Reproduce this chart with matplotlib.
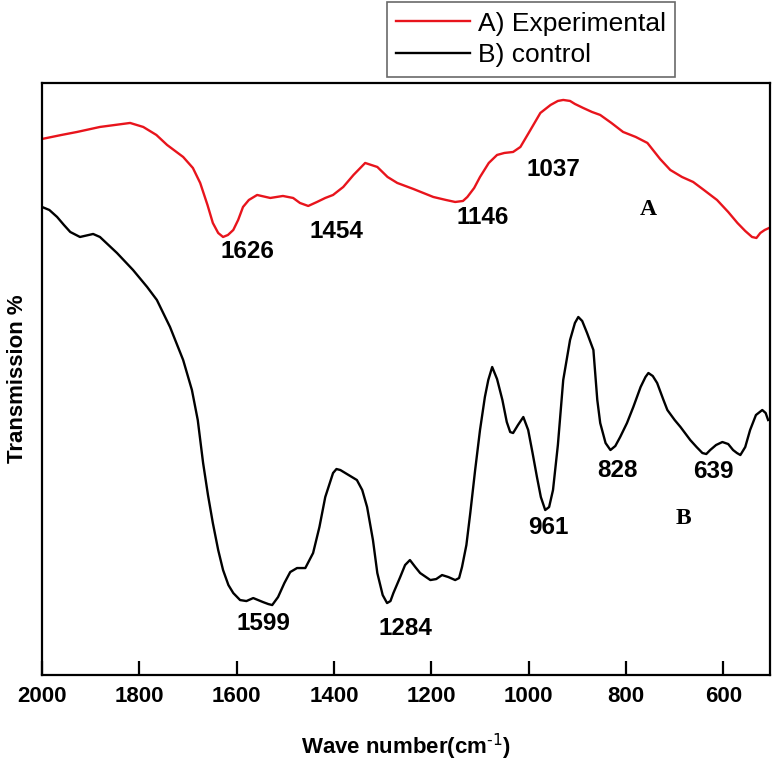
import matplotlib
matplotlib.use("Agg")
import matplotlib.pyplot as plt

# === DATOS ===
# Curva A) Experimental (numero de onda, transmision relativa)
wn_exp = [2000, 1960, 1928, 1881, 1850, 1819, 1792, 1765, 1743, 1710, 1690, 1675,
          1660, 1649, 1638, 1628, 1618, 1607, 1597, 1587, 1575, 1558, 1531, 1505,
          1484, 1470, 1453, 1435, 1418, 1402, 1381, 1360, 1336, 1311, 1290, 1270,
          1237, 1196, 1170, 1151, 1135, 1126, 1112, 1100, 1082, 1065, 1050, 1032,
          1017, 1000, 976, 955, 940, 929, 915, 905, 888, 870, 853, 830,
          806, 780, 756, 730, 709, 685, 662, 640, 613, 590, 571, 555,
          541, 532, 524, 515, 506]
tr_exp = [536, 540, 543, 548, 550, 552, 548, 540, 530, 518, 507, 492,
          470, 452, 442, 438, 440, 445, 455, 468, 475, 480, 477, 479,
          477, 472, 469, 473, 477, 480, 488, 500, 512, 508, 498, 492,
          486, 478, 475, 473, 474, 478, 487, 498, 512, 520, 522, 523,
          528, 542, 562, 570, 574, 575, 574, 571, 567, 563, 560, 552,
          543, 538, 532, 516, 505, 498, 493, 485, 475, 463, 452, 444,
          438, 437, 442, 445, 447]

# Curva B) control
wn_ctrl = [2000, 1985, 1969, 1955, 1942, 1922, 1895, 1881, 1846, 1813, 1784, 1764,
           1737, 1710, 1692, 1680, 1669, 1659, 1649, 1638, 1628, 1617, 1607, 1593,
           1580, 1566, 1546, 1535, 1527, 1515, 1502, 1490, 1476, 1459, 1443, 1430,
           1418, 1402, 1395, 1387, 1370, 1353, 1342, 1332, 1320, 1311, 1300, 1291,
           1284, 1278, 1264, 1254, 1244, 1233, 1223, 1202, 1190, 1178, 1165, 1151,
           1143, 1137, 1128, 1120, 1110, 1100, 1090, 1083, 1075, 1065, 1054, 1045,
           1038, 1032, 1022, 1011, 1001, 992, 983, 975, 966, 958, 950, 940,
           929, 915, 905, 898, 890, 880, 867, 859, 853, 842, 832, 822,
           812, 798, 785, 770, 760, 754, 745, 736, 723, 715, 700, 688,
           668, 655, 643, 635, 627, 615, 602, 590, 580, 572, 565, 555,
           545, 533, 520, 513, 508]
tr_ctrl = [468, 465, 458, 450, 443, 438, 441, 438, 422, 405, 388, 375,
           348, 315, 285, 255, 212, 180, 152, 125, 105, 90, 82, 75,
           74, 77, 73, 71, 70, 78, 92, 103, 107, 107, 122, 148,
           178, 202, 206, 205, 200, 195, 185, 168, 135, 102, 80, 72,
           74, 82, 98, 110, 115, 108, 102, 95, 96, 100, 98, 95,
           97, 108, 130, 162, 205, 245, 278, 295, 308, 296, 275, 253,
           243, 242, 250, 258, 245, 222, 198, 178, 165, 168, 185, 230,
           295, 335, 352, 358, 354, 342, 325, 275, 252, 232, 225, 229,
           238, 252, 268, 288, 298, 302, 299, 292, 275, 265, 255, 248,
           235, 228, 222, 221, 225, 230, 233, 231, 225, 222, 220, 228,
           245, 260, 265, 262, 255]

# Etiquetas de picos: texto, x, y
picos_texto = ["1626", "1454", "1146", "1037", "1599", "1284", "961", "828", "639"]
picos_x = [1577, 1394, 1094, 950, 1546, 1254, 960, 818, 621]
picos_y = [423, 443, 457, 505, 52, 47, 148, 205, 204]

# Letras de curva
letras = ["A", "B"]
letras_x = [754, 682]
letras_y = [465, 157]

xticks = [2000, 1800, 1600, 1400, 1200, 1000, 800, 600]

# === FIGURA ===
plt.rcParams["font.family"] = ["Liberation Sans", "DejaVu Sans"]
fig = plt.figure(figsize=(7.74, 7.68), dpi=100)
ax = fig.add_axes([0.0543, 0.121, 0.9406, 0.771])

ax.plot(wn_exp, tr_exp, color="#e8141c", linewidth=1.7, label="A) Experimental")
ax.plot(wn_ctrl, tr_ctrl, color="black", linewidth=1.7, label="B) control")

ax.set_xlim(2000, 504)
ax.set_ylim(0, 592)
ax.set_xticks(xticks)
ax.set_xticklabels([str(t) for t in xticks], fontsize=16, fontweight="bold")
ax.set_yticks([])
ax.tick_params(axis="x", direction="in", length=10, width=1.6, pad=8)
for s in ax.spines.values():
    s.set_linewidth(1.6)

ax.set_xlabel("Wave number(cm$^{\\text{-1}}$)", fontsize=16, fontweight="bold", labelpad=18)
ax.set_ylabel("Transmission %", fontsize=16, fontweight="bold", labelpad=10)

for t, x, y in zip(picos_texto, picos_x, picos_y):
    ax.text(x, y, t, fontsize=17.5, fontweight="bold", ha="center", va="center")

for t, x, y in zip(letras, letras_x, letras_y):
    ax.text(x, y, t, fontsize=17, fontweight="bold", family="Liberation Serif",
            ha="center", va="center")

leg = ax.legend(loc="upper left", bbox_to_anchor=(0.5, 0.997),
                bbox_transform=fig.transFigure, fontsize=19, frameon=True,
                fancybox=False, edgecolor="#444444", handlelength=2.8,
                handletextpad=0.3, borderpad=0.35, labelspacing=0.3,
                borderaxespad=0)
leg.get_frame().set_linewidth(1.2)

fig.savefig("out.png", dpi=100)
